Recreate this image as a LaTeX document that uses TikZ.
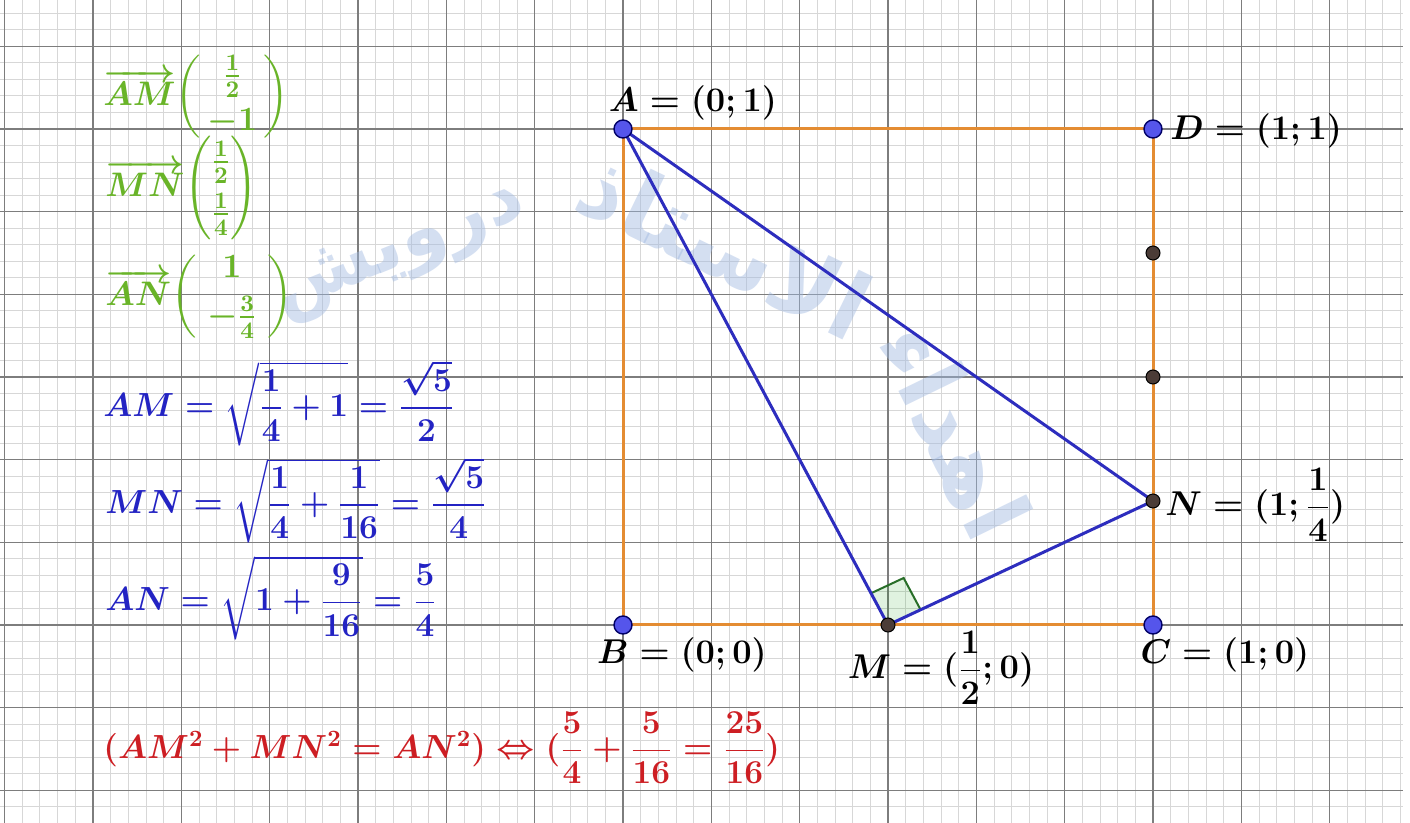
\RequirePackage{fix-cm}
\documentclass[tikz,border=0pt]{standalone}
\usepackage{amsmath}
\usepackage[no-math]{fontspec}
\newfontfamily\arabicfont[Script=Arabic]{DejaVu Sans}
\TeXXeTstate=1
\usetikzlibrary{calc}
\definecolor{gminor}{RGB}{215,215,215}
\definecolor{gmajor}{RGB}{125,125,125}
\definecolor{sqor}{RGB}{228,140,50}
\definecolor{trib}{RGB}{45,45,190}
\definecolor{ptblue}{RGB}{85,85,235}
\definecolor{ptdark}{RGB}{75,60,55}
\definecolor{vgreen}{RGB}{105,180,40}
\definecolor{fblue}{RGB}{35,35,195}
\definecolor{fred}{RGB}{205,30,35}
\definecolor{wmcol}{RGB}{160,185,225}
\definecolor{rgreen}{RGB}{40,110,40}
\begin{document}
\begin{tikzpicture}[x=0.5pt,y=-0.5pt,
  bigpt/.style={circle,fill=ptblue,draw=black!60!blue,line width=0.7pt,inner sep=0pt,minimum size=9pt},
  smpt/.style={circle,fill=ptdark,draw=black,line width=0.5pt,inner sep=0pt,minimum size=7pt},
  lbl/.style={font=\fontsize{17.2}{20}\selectfont\boldmath, inner sep=0pt},
  vec/.style={font=\fontsize{17}{14}\selectfont\boldmath, text=vgreen, inner sep=0pt, anchor=west},
  frm/.style={font=\fontsize{16.7}{20}\selectfont\boldmath, text=fblue, inner sep=0pt, anchor=west},
  wmk/.style={font=\arabicfont\bfseries\fontsize{46}{55}\selectfont, text=wmcol, inner sep=0pt}]
\useasboundingbox (0,0) rectangle (1410,823);
\fill[white] (0,0) rectangle (1410,823);
% grid
\begin{scope}
\clip (0,0) rectangle (1403,823);
\foreach \i in {-36,...,45} {\draw[gminor, line width=0.5pt] ({623+\i*17.6667},0) -- ({623+\i*17.6667},823);}
\foreach \j in {-8,...,42} {\draw[gminor, line width=0.5pt] (0,{129+\j*16.5333}) -- (1403,{129+\j*16.5333});}
\foreach \i in {-7,...,9} {\draw[gmajor, line width=0.7pt] ({623+\i*88.3333},0) -- ({623+\i*88.3333},823);}
\foreach \j in {-2,...,9} {\draw[gmajor, line width=0.7pt] (0,{129+\j*82.6667}) -- (1403,{129+\j*82.6667});}
\end{scope}
% watermark
\begin{scope}[opacity=0.45]
\node[wmk, rotate=-64] (w1) at (955,430) {\beginR اهداء\endR};
\node[wmk, rotate=-26] (w2) at (725,245) {\beginR الاستاذ\endR};
\node[wmk, rotate=22, font=\arabicfont\bfseries\fontsize{38}{46}\selectfont] (w3) at (400,252) {\beginR درويش\endR};
\end{scope}
% points
\coordinate (A) at (623,129);
\coordinate (D) at (1153,129);
\coordinate (B) at (623,625);
\coordinate (C) at (1153,625);
\coordinate (M) at (888,625);
\coordinate (N) at (1153,501);
\coordinate (P1) at (1153,253);
\coordinate (P2) at (1153,377);
% square
\draw[sqor, line width=1.5pt] (A) -- (D) -- (C) -- (B) -- cycle;
% right angle
\coordinate (m1) at ($(M)!0.064!(A)$);
\coordinate (m2) at ($(M)!0.123!(N)$);
\coordinate (m3) at ($(m1)+(m2)-(M)$);
\fill[green!60!black, opacity=0.12] (M) -- (m1) -- (m3) -- (m2) -- cycle;
\draw[rgreen, line width=1pt] (m1) -- (m3) -- (m2);
% triangle
\draw[trib, line width=1.5pt, line join=round] (A) -- (M) -- (N) -- cycle;
% point marks
\node[bigpt] (pA) at (A) {};
\node[bigpt] (pD) at (D) {};
\node[bigpt] (pB) at (B) {};
\node[bigpt] (pC) at (C) {};
\node[smpt] (pM) at (M) {};
\node[smpt] (pN) at (N) {};
\node[smpt] (pP1) at (P1) {};
\node[smpt] (pP2) at (P2) {};
% labels
\node[lbl] (lA) at (693,103) {$A=(0;1)$};
\node[lbl, anchor=west] (lD) at (1170,131) {$D=(1;1)$};
\node[lbl, anchor=west] (lN) at (1165,505) {$N=(1;\dfrac{1}{4})$};
\node[lbl] (lB) at (682,655) {$B=(0;0)$};
\node[lbl] (lM) at (941,668) {$M=(\dfrac{1}{2};0)$};
\node[lbl] (lC) at (1225,655) {$C=(1;0)$};
% vectors
\node[vec] (vAM) at (103,97) {$\overrightarrow{AM}\biggl(\begin{array}{@{\,}c@{\,}}\frac{1}{2}\\[8pt]-1\end{array}\biggr)$};
\node[vec] (vMN) at (105,188) {$\overrightarrow{MN}\Biggl(\begin{array}{@{}c@{}}\frac{1}{2}\\[7pt]\frac{1}{4}\end{array}\Biggr)$};
\node[vec] (vAN) at (105,297) {$\overrightarrow{AN}\biggl(\begin{array}{@{\;}c@{\;}}1\\[5pt]-\frac{3}{4}\end{array}\biggr)$};
% lengths
\node[frm] (fAM) at (103,403) {$AM=\sqrt{\dfrac{1}{4}+1}=\dfrac{\sqrt{5}}{2}$};
\node[frm] (fMN) at (105,500) {$MN=\sqrt{\dfrac{1}{4}+\dfrac{1}{16}}=\dfrac{\sqrt{5}}{4}$};
\node[frm] (fAN) at (105,598) {$AN=\sqrt{1+\dfrac{9}{16}}=\dfrac{5}{4}$};
\node[frm, text=fred] (fP) at (103,748) {$(AM^2+MN^2=AN^2)\Leftrightarrow(\dfrac{5}{4}+\dfrac{5}{16}=\dfrac{25}{16})$};
\end{tikzpicture}
\end{document}
